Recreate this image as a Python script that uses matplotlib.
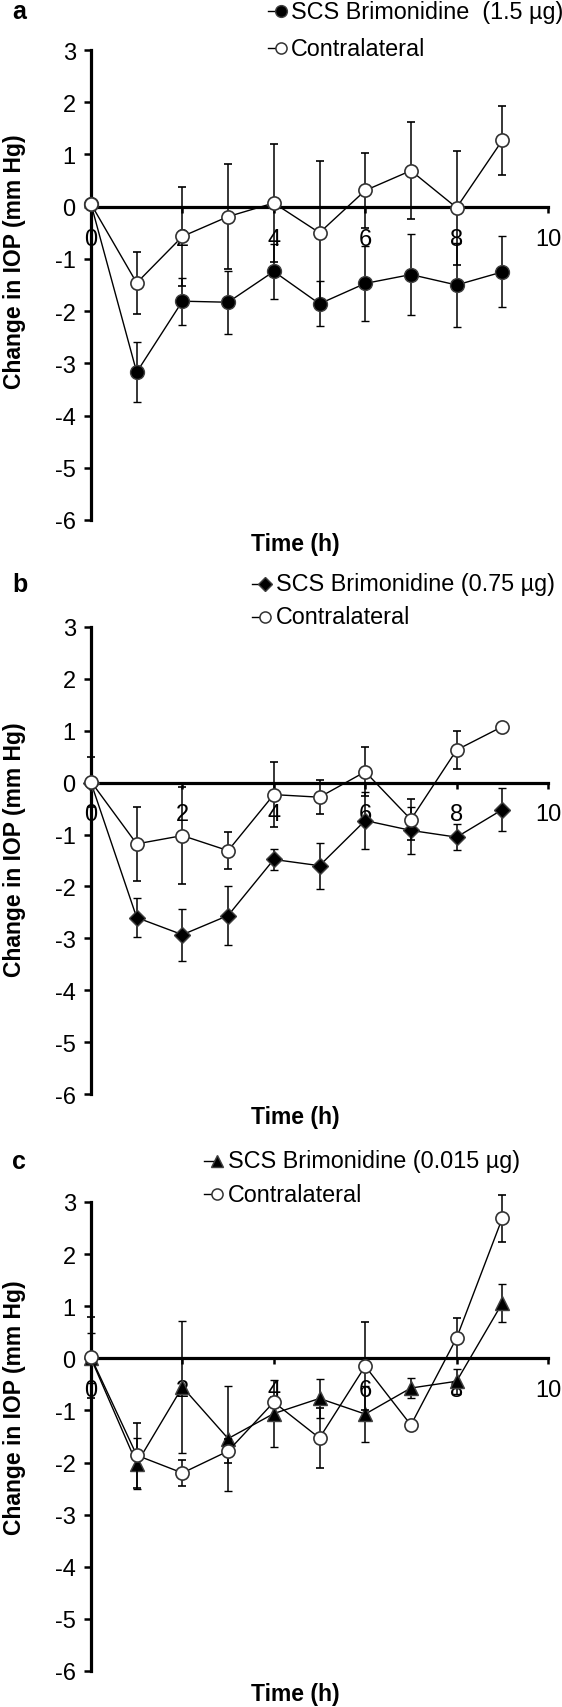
import matplotlib
matplotlib.use('Agg')
import matplotlib.pyplot as plt
from matplotlib.lines import Line2D

plt.rcParams['font.family'] = ['Liberation Sans', 'DejaVu Sans']
plt.rcParams['axes.unicode_minus'] = False

# ---------------- data ----------------
hours = [0, 1, 2, 3, 4, 5, 6, 7, 8, 9]

a_scs = [0.05, -3.17, -1.81, -1.83, -1.24, -1.86, -1.47, -1.30, -1.50, -1.25]
a_scs_err = [0.0, 0.57, 0.45, 0.60, 0.52, 0.43, 0.72, 0.77, 0.80, 0.68]
a_con = [0.05, -1.46, -0.57, -0.19, 0.07, -0.50, 0.31, 0.69, -0.02, 1.27]
a_con_err = [0.0, 0.60, 0.95, 1.00, 1.13, 1.37, 0.72, 0.93, 1.09, 0.66]

b_scs = [0.0, -2.60, -2.93, -2.56, -1.48, -1.60, -0.73, -0.92, -1.05, -0.52]
b_scs_err = [0.0, 0.37, 0.50, 0.56, 0.21, 0.44, 0.55, 0.46, 0.25, 0.42]
b_con = [0.02, -1.18, -1.02, -1.31, -0.23, -0.28, 0.21, -0.71, 0.63, 1.08]
b_con_err = [0.48, 0.71, 0.93, 0.36, 0.63, 0.33, 0.47, 0.40, 0.37, 0.0]

c_scs = [0.0, -2.02, -0.55, -1.54, -1.06, -0.77, -1.07, -0.57, -0.44, 1.06]
c_scs_err = [0.48, 0.49, 1.27, 1.00, 0.65, 0.38, 0.54, 0.20, 0.24, 0.36]
c_con = [0.02, -1.86, -2.20, -1.78, -0.84, -1.53, -0.15, -1.28, 0.39, 2.69]
c_con_err = [0.78, 0.62, 0.25, 0.23, 0.10, 0.58, 0.85, 0.05, 0.39, 0.45]

panel_letters = ['a', 'b', 'c']
scs_labels = ['SCS Brimonidine  (1.5 \u00b5g)', 'SCS Brimonidine (0.75 \u00b5g)',
              'SCS Brimonidine (0.015 \u00b5g)']
con_label = 'Contralateral'
x_label = 'Time (h)'
y_label = 'Change in IOP (mm Hg)'
x_ticks = [0, 2, 4, 6, 8, 10]
y_ticks = [-6, -5, -4, -3, -2, -1, 0, 1, 2, 3]

# ---------------- layout ----------------
W, H = 562, 1708
fig = plt.figure(figsize=(W / 100, H / 100), dpi=100)


def fx(px):
    return px / W


def fy(py):
    return 1 - py / H


panels = [
    dict(data=(a_scs, a_scs_err, a_con, a_con_err), marker='o', ms=10.0, top=51, bot=521,
         leg_rows=(12, 49), leg_x=(268, 281, 291), ylab=262),
    dict(data=(b_scs, b_scs_err, b_con, b_con_err), marker='D', ms=8.0, top=628, bot=1095,
         leg_rows=(585, 618), leg_x=(252, 265, 276), ylab=850),
    dict(data=(c_scs, c_scs_err, c_con, c_con_err), marker='^', ms=10.0, top=1203, bot=1672,
         leg_rows=(1162, 1195), leg_x=(204, 217, 228), ylab=1408),
]

x_left, x_right = 91, 548

for i, p in enumerate(panels):
    ax = fig.add_axes([fx(x_left), fy(p['bot']), (x_right - x_left) / W, (p['bot'] - p['top']) / H])
    ax.patch.set_alpha(0)
    ax.set_xlim(0, 10)
    ax.set_ylim(-6, 3)
    for s in ['top', 'right']:
        ax.spines[s].set_visible(False)
    ax.spines['left'].set_linewidth(2.3)
    ax.spines['bottom'].set_linewidth(2.3)
    ax.spines['bottom'].set_position(('data', 0))
    ax.set_xticks(x_ticks)
    ax.set_yticks(y_ticks)
    ax.tick_params(axis='x', direction='out', length=4, width=1.8, pad=11, labelsize=17)
    ax.tick_params(axis='y', direction='out', length=5, width=1.8, pad=6, labelsize=17)

    scs, scs_err, con, con_err = p['data']
    ax.errorbar(hours, scs, yerr=scs_err, color='k', lw=1, marker=p['marker'], ms=p['ms'],
                mfc='k', mec='0.25', mew=1.0, ecolor='k', elinewidth=1.1, capsize=2.8,
                capthick=1.1, clip_on=False, zorder=3)
    ax.errorbar(hours, con, yerr=con_err, color='k', lw=1, marker='o', ms=9.5,
                mfc='white', mec='0.2', mew=1.2, ecolor='k', elinewidth=1.1, capsize=2.8,
                capthick=1.1, clip_on=False, zorder=4)

    # panel letter
    fig.text(fx(12), fy(p['leg_rows'][0]), panel_letters[i], fontsize=18, fontweight='bold',
             ha='left', va='center')
    # axis labels
    fig.text(fx(295), fy(p['bot'] + 23), x_label, fontsize=16.5, fontweight='bold',
             ha='center', va='center')
    fig.text(fx(15), fy(p['ylab']), y_label, fontsize=16.5, fontweight='bold',
             ha='center', va='center', rotation=90)

    # legend (drawn manually to place marker at the right end of the short line)
    lx0, lxm, ltx = p['leg_x']
    r1, r2 = p['leg_rows']
    fig.add_artist(Line2D([fx(lx0), fx(lxm)], [fy(r1), fy(r1)], color='k', lw=1,
                          transform=fig.transFigure))
    fig.add_artist(Line2D([fx(lxm)], [fy(r1)], marker=p['marker'], ms=p['ms'] * 0.85,
                          mfc='k', mec='0.25', color='k', transform=fig.transFigure))
    fig.text(fx(ltx), fy(r1), scs_labels[i], fontsize=16.8, ha='left', va='center')
    fig.add_artist(Line2D([fx(lx0), fx(lxm)], [fy(r2), fy(r2)], color='k', lw=1,
                          transform=fig.transFigure))
    fig.add_artist(Line2D([fx(lxm)], [fy(r2)], marker='o', ms=8.0, mfc='white', mec='0.2',
                          mew=1.1, color='k', transform=fig.transFigure))
    fig.text(fx(ltx), fy(r2), con_label, fontsize=16.8, ha='left', va='center')

fig.savefig('out.png', dpi=100)
